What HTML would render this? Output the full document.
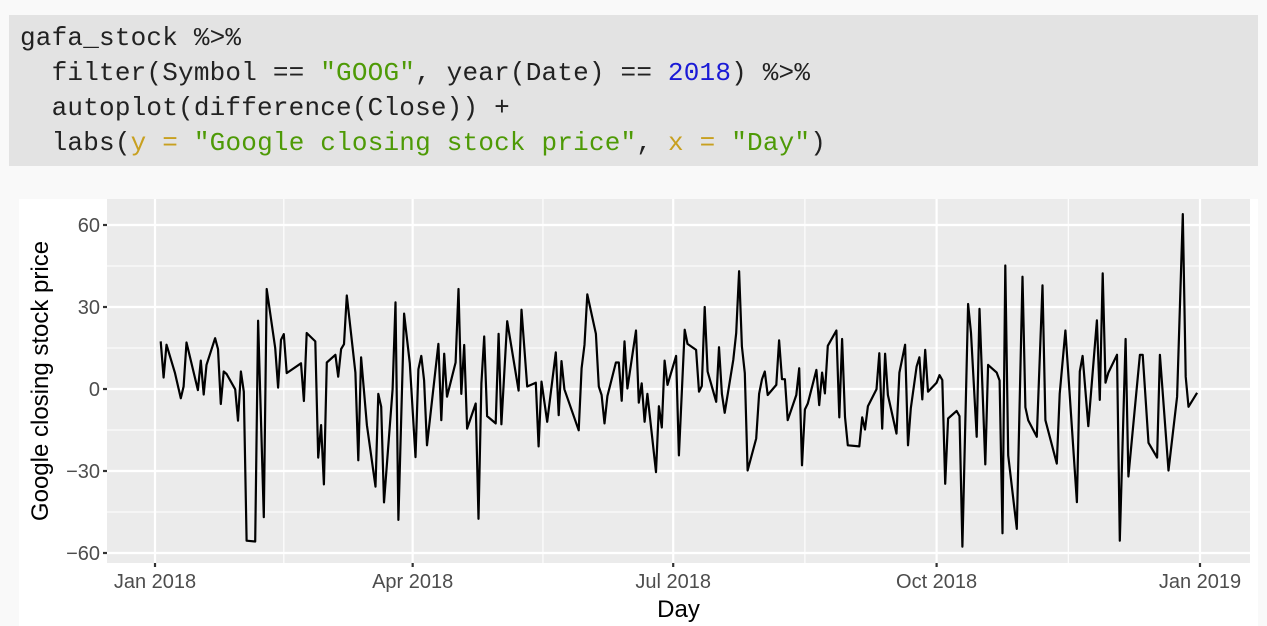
<!DOCTYPE html>
<html><head><meta charset="utf-8"><style>
body{margin:0;width:1267px;height:626px;background:#f9f9f9;overflow:hidden;position:relative;font-family:"Liberation Sans",sans-serif}
#code{position:absolute;left:9px;top:15px;width:1249px;height:151px;background:#e3e3e3}
#code pre{margin:0;position:absolute;left:11px;top:6px;font-family:"Liberation Mono",monospace;font-size:26px;line-height:35px;color:#222;letter-spacing:0.2px}
.s{color:#4e9a06}.n{color:#1a1ad6}.a{color:#c8a020}
#plot{position:absolute;left:19px;top:199px}
</style></head><body>
<div id="code"><pre>gafa_stock %&gt;%
  filter(Symbol == <span class="s">"GOOG"</span>, year(Date) == <span class="n">2018</span>) %&gt;%
  autoplot(difference(Close)) +
  labs(<span class="a">y</span> <span class="a">=</span> <span class="s">"Google closing stock price"</span>, <span class="a">x</span> <span class="a">=</span> <span class="s">"Day"</span>)</pre></div>
<svg id="plot" width="1239" height="427"></svg>
<script>
const days=[2,3,4,7,9,10,11,15,16,17,18,21,22,23,24,25,28,29,30,31,32,35,36,38,39,42,43,44,45,46,51,52,53,56,57,58,59,60,63,64,65,66,67,70,71,72,74,77,78,79,80,83,84,85,87,89,91,92,93,94,95,99,100,101,102,105,106,107,108,109,112,113,114,115,116,119,120,121,123,127,128,130,133,134,135,137,140,141,142,143,148,149,150,151,154,155,156,157,158,161,162,163,164,165,168,169,170,171,172,175,176,177,178,179,182,183,185,186,189,190,191,192,193,196,197,198,199,202,203,204,205,206,207,210,211,212,213,214,217,218,219,220,221,224,225,226,227,228,231,232,233,234,235,238,239,240,241,242,246,247,248,249,252,253,254,255,256,259,260,262,263,264,266,267,268,269,270,273,274,275,276,277,280,281,282,284,285,287,288,290,291,294,295,296,297,298,301,303,304,305,308,310,311,315,316,318,322,323,324,326,329,330,331,332,333,336,337,339,340,344,345,347,350,351,354,357,359,360,361,364];
const values=[17.4,4.2,16.2,5.8,-3.4,0.9,17.0,-0.4,10.4,-2.0,8.8,18.6,14.6,-5.5,6.4,5.5,-0.1,-11.6,6.4,-1.0,-55.5,-55.8,25.0,-46.9,36.6,15.0,0.5,18.0,20.1,5.8,9.4,-4.4,20.5,17.4,-25.1,-13.2,-34.9,9.7,12.5,4.5,14.6,16.4,34.2,6.0,-26.1,11.6,-13.2,-35.7,-1.8,-6.5,-41.5,-0.1,31.7,-47.9,27.6,9.4,-24.9,7.2,12.1,3.1,-20.6,16.5,-11.4,12.9,-2.8,9.7,36.6,-1.8,16.1,-14.5,-5.3,-47.5,2.1,19.2,-9.9,-12.6,20.2,-12.9,24.8,-0.6,29.0,0.9,2.3,-21.0,2.7,-12.0,13.4,-9.6,10.2,-0.1,-15.1,7.6,16.2,34.6,20.2,0.9,-2.2,-12.6,-2.6,9.7,9.7,-4.3,17.4,0.2,21.4,-5.0,2.1,-12.0,-1.8,-30.4,-6.3,-14.1,10.4,1.5,12.1,-24.3,21.7,16.5,14.3,-1.0,1.1,30.0,6.4,-4.7,15.3,-1.8,-8.7,10.7,20.5,43.1,15.6,5.8,-29.8,-18.1,-1.8,3.6,6.4,-2.2,1.5,17.8,3.6,3.6,-11.4,-2.2,7.6,-27.9,-7.5,-5.3,7.0,-5.9,6.0,-1.6,15.8,21.4,-10.4,18.3,-10.2,-20.6,-21.0,-10.4,-14.8,-6.3,-0.1,13.1,-14.5,12.9,-2.2,-16.3,6.0,16.2,-20.6,-7.1,8.2,11.6,-3.8,14.3,-1.0,2.3,5.1,3.3,-34.7,-10.8,-8.0,-9.9,-57.7,31.1,20.5,-17.5,29.3,-27.6,8.8,6.0,3.1,-52.8,45.2,-24.3,-51.2,41.1,-6.7,-11.4,-17.5,37.9,-11.4,-27.3,-1.8,21.4,-41.4,6.4,12.1,-13.6,25.1,-4.0,42.3,2.3,6.0,12.5,-55.5,18.3,-32.0,12.5,12.5,-19.7,-25.1,12.5,-29.8,-2.8,64.0,4.5,-6.5,-1.4];
const yTicks=[-60,-30,0,30,60];
const yMinor=[-45,-15,15,45];
const xTickDays=[0,90,181,273,365];
const xTickLabels=["Jan 2018","Apr 2018","Jul 2018","Oct 2018","Jan 2019"];
const xMinorDays=[45,135.5,227,319];

const NS="http://www.w3.org/2000/svg";
const svg=document.getElementById('plot');
const OX=19,OY=199;
const P={l:107-OX,r:1250-OX,t:0,b:563-OY};
const xs=d=>155-OX+d*(1045/365);
const ys=v=>389-OY-v*(82/30);
function mk(tag,attrs,parent){const e=document.createElementNS(NS,tag);for(const k in attrs)e.setAttribute(k,attrs[k]);(parent||svg).appendChild(e);return e;}

const bgW=mk('rect',{x:0,y:0,width:1239,height:427,fill:'#ffffff'});


const panel=mk('rect',{x:P.l,y:P.t,width:P.r-P.l,height:P.b-P.t,fill:'#ebebeb'});



yMinor.forEach(v=>{const l=mk('line',{x1:P.l,x2:P.r,y1:ys(v),y2:ys(v),stroke:'#fff','stroke-width':1.1});

});
xMinorDays.forEach(d=>{const l=mk('line',{x1:xs(d),x2:xs(d),y1:P.t,y2:P.b,stroke:'#fff','stroke-width':1.1});

});
yTicks.forEach(v=>{const l=mk('line',{x1:P.l,x2:P.r,y1:ys(v),y2:ys(v),stroke:'#fff','stroke-width':2.2});


const t=mk('line',{x1:P.l-4,x2:P.l,y1:ys(v),y2:ys(v),stroke:'#333','stroke-width':2.2});


const tx=mk('text',{x:P.l-7,y:ys(v)+7,'text-anchor':'end','font-size':20,fill:'#4d4d4d'});
tx.textContent=(v<0?'\u2212'+Math.abs(v):String(v));

});
xTickDays.forEach((d,i)=>{const l=mk('line',{x1:xs(d),x2:xs(d),y1:P.t,y2:P.b,stroke:'#fff','stroke-width':2.2});


const t=mk('line',{x1:xs(d),x2:xs(d),y1:P.b,y2:P.b+4,stroke:'#333','stroke-width':2.2});


const tx=mk('text',{x:xs(d),y:P.b+25,'text-anchor':'middle','font-size':20,fill:'#4d4d4d'});
tx.textContent=xTickLabels[i];

});

const pts=days.map((d,i)=>xs(d).toFixed(1)+','+ys(values[i]).toFixed(1)).join(' ');
const line=mk('polyline',{points:pts,fill:'none',stroke:'#000','stroke-width':2.2,'stroke-linejoin':'round'});



const xt=mk('text',{x:(P.l+P.r)/2,y:418,'text-anchor':'middle','font-size':24,fill:'#000'});
xt.textContent='Day';


const yt=mk('text',{x:0,y:0,'text-anchor':'middle','font-size':24,fill:'#000',transform:`translate(29,${(P.t+P.b)/2}) rotate(-90)`});
yt.textContent='Google closing stock price';


</script>
</body></html>
